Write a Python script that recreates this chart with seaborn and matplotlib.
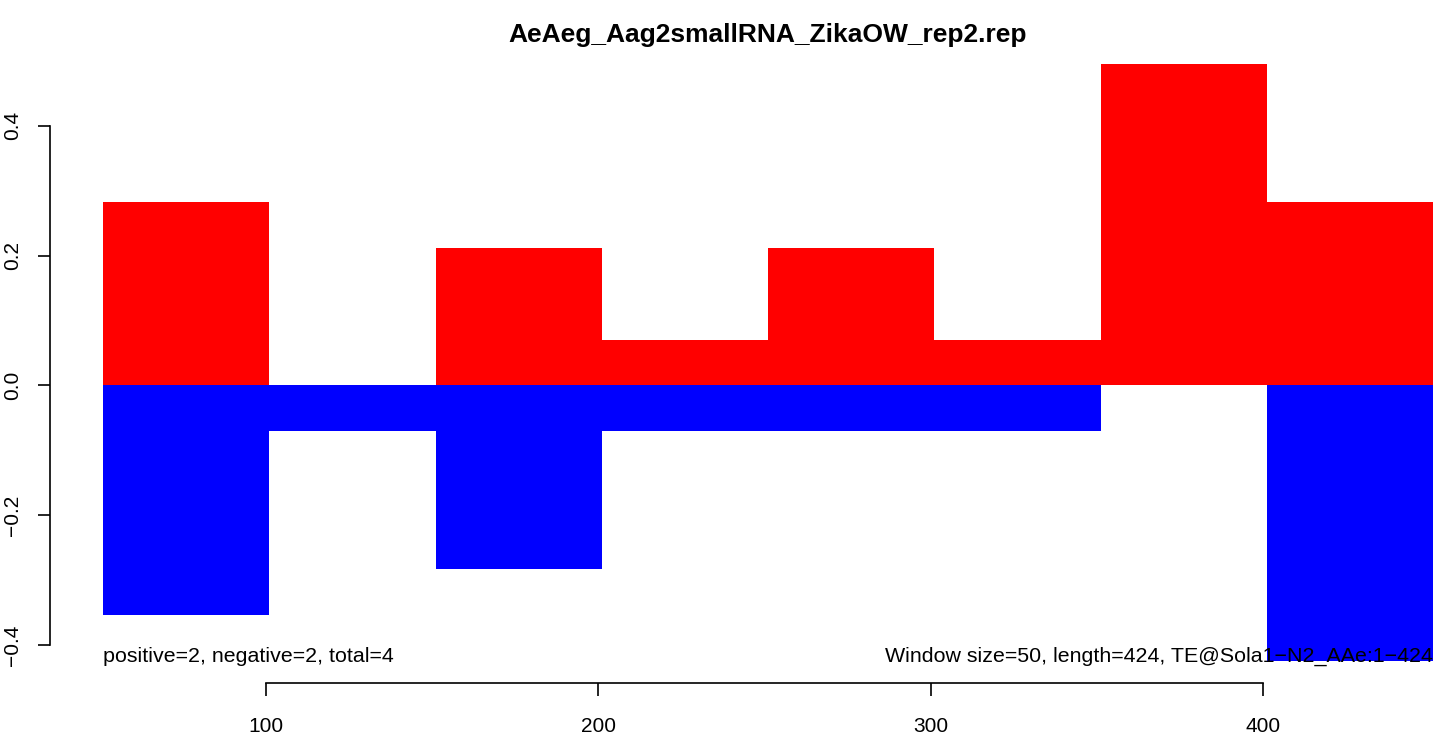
import numpy as np
import pandas as pd
import matplotlib
matplotlib.use("Agg")
import matplotlib.pyplot as plt
import seaborn as sns

# window centres (window size 50) and normalised counts per strand
window_center = [76, 126, 176, 226, 276, 326, 376, 426]
pos_vals = [0.2828, 0.0, 0.2121, 0.0707, 0.2121, 0.0707, 0.4950, 0.2828]
neg_vals = [-0.3536, -0.0707, -0.2828, -0.0707, -0.0707, -0.0707, 0.0, -0.4243]

title = "AeAeg_Aag2smallRNA_ZikaOW_rep2.rep"
left_note = "positive=2, negative=2, total=4"
right_note = "Window size=50, length=424, TE@Sola1\u2212N2_AAe:1\u2212424"

df = pd.DataFrame({"x": window_center, "pos": pos_vals, "neg": neg_vals})

sns.set_style("white")
plt.rcParams["font.family"] = ["Liberation Sans", "DejaVu Sans"]

W, H = 1439, 733
fig = plt.figure(figsize=(W / 100, H / 100), dpi=100)
ax = fig.add_axes([103 / W, (H - 661) / H, (1433 - 103) / W, (661 - 64) / H])

sns.barplot(data=df, x="x", y="pos", native_scale=True, width=1, color="#FF0000",
            saturation=1, errorbar=None, linewidth=0, ax=ax)
sns.barplot(data=df, x="x", y="neg", native_scale=True, width=1, color="#0000FF",
            saturation=1, errorbar=None, linewidth=0, ax=ax)

ax.set_xlim(51, 451)
ax.set_ylim(min(neg_vals), max(pos_vals))
ax.set_xlabel("")
ax.set_ylabel("")

ax.set_xticks([100, 200, 300, 400])
ax.set_xticklabels(["100", "200", "300", "400"])
ax.set_yticks([-0.4, -0.2, 0.0, 0.2, 0.4])
ax.set_yticklabels(["\u22120.4", "\u22120.2", "0.0", "0.2", "0.4"])

for s in ["top", "right"]:
    ax.spines[s].set_visible(False)
ax.spines["left"].set_position(("outward", 38))
ax.spines["bottom"].set_position(("outward", 16))
ax.spines["left"].set_bounds(-0.4, 0.4)
ax.spines["bottom"].set_bounds(100, 400)
for s in ["left", "bottom"]:
    ax.spines[s].set_linewidth(1.2)
    ax.spines[s].set_color("black")
ax.tick_params(axis="both", direction="out", length=9, width=1.2, colors="black",
               labelsize=15, left=True, bottom=True)
ax.tick_params(axis="x", pad=15)
ax.tick_params(axis="y", pad=11, labelrotation=90)
for lab in ax.get_yticklabels():
    lab.set_va("center")

ax.set_title(title, fontsize=19, fontweight="bold", pad=16, color="black")

ax.text(51, -0.417, left_note, ha="left", va="center", fontsize=15.4, color="black")
ax.text(451, -0.417, right_note, ha="right", va="center", fontsize=15.4, color="black")

fig.savefig("out.png", dpi=100)
